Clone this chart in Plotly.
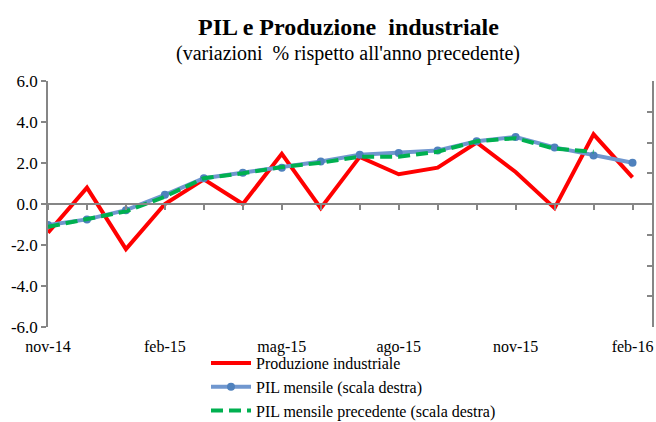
import plotly.graph_objects as go

months = ["nov-14", "dic-14", "gen-15", "feb-15", "mar-15", "apr-15", "mag-15", "giu-15",
          "lug-15", "ago-15", "set-15", "ott-15", "nov-15", "dic-15", "gen-16", "feb-16"]
label_months = ["nov-14", "feb-15", "mag-15", "ago-15", "nov-15", "feb-16"]

prod_ind = [-1.4, 0.8, -2.2, 0.0, 1.2, 0.0, 2.45, -0.2, 2.3, 1.45, 1.77, 3.0, 1.56, -0.2, 3.4, 1.3]
pil_mensile = [-0.34, -0.25, -0.10, 0.15, 0.42, 0.51, 0.59, 0.69, 0.80, 0.83, 0.87, 1.02, 1.09, 0.92, 0.79, 0.67]
pil_precedente = [-0.37, -0.25, -0.12, 0.12, 0.42, 0.50, 0.60, 0.67, 0.77, 0.77, 0.85, 1.02, 1.07, 0.90, 0.85, None]

left_ticks = [-6, -4, -2, 0, 2, 4, 6]
right_ticks = [-2, -1.5, -1, -0.5, 0, 0.5, 1, 1.5, 2]

FONT = "Liberation Serif"
AX = "#868686"
W, H = 656, 422
ML, MR, MT, MB = 48, 4, 81, 95
plot_h = H - MT - MB
plot_w = W - ML - MR

fig = go.Figure()
fig.add_trace(go.Scatter(x=months, y=prod_ind, name="Produzione industriale", mode="lines",
                         line=dict(color="#ff0000", width=4), xaxis="x", yaxis="y"))
fig.add_trace(go.Scatter(x=months, y=pil_mensile, name="PIL mensile (scala destra)", mode="lines+markers",
                         line=dict(color="#7097cf", width=4),
                         marker=dict(color="#4f81bd", size=8), xaxis="x", yaxis="y2"))
fig.add_trace(go.Scatter(x=months, y=pil_precedente, name="PIL mensile precedente (scala destra)", mode="lines",
                         line=dict(color="#00b050", width=4, dash="12px,6px"), xaxis="x", yaxis="y2"))
# invisible helper trace for the label axis
fig.add_trace(go.Scatter(x=months, y=[None] * len(months), showlegend=False, hoverinfo="skip",
                         xaxis="x2", yaxis="y"))


def py(win_y):
    """window pixel y -> paper fraction"""
    return 1 + (MT - win_y) / plot_h


def px(win_x):
    """window pixel x -> paper fraction"""
    return (win_x - ML) / plot_w


fig.update_layout(
    width=W, height=H,
    margin=dict(l=ML, r=MR, t=MT, b=MB, autoexpand=False),
    paper_bgcolor="white", plot_bgcolor="white",
    font=dict(family=FONT, size=16, color="#000000"),
    showlegend=True,
    legend=dict(x=px(206), y=py(346), xanchor="left", yanchor="top", orientation="v",
                font=dict(family=FONT, size=16), tracegroupgap=0, itemwidth=40,
                bgcolor="rgba(0,0,0,0)", borderwidth=0),
    xaxis=dict(type="category", categoryorder="array", categoryarray=months,
               range=[0, 15.5], anchor="free", position=0.5, automargin=False,
               showline=True, linecolor=AX, linewidth=1.5,
               ticks="outside", ticklen=5, tickcolor=AX, tickwidth=1.5,
               showticklabels=False, showgrid=False, zeroline=False),
    xaxis2=dict(type="category", categoryorder="array", categoryarray=months,
                range=[0, 15.5], overlaying="x", anchor="y", side="bottom", automargin=False,
                tickmode="array", tickvals=label_months, ticktext=label_months,
                showline=False, ticks="outside", ticklen=5, tickcolor="rgba(0,0,0,0)",
                showgrid=False, zeroline=False,
                tickfont=dict(family=FONT, size=16)),
    yaxis=dict(range=[-6, 6], tickmode="array", tickvals=left_ticks, automargin=False,
               ticktext=[f"{v:.1f}" for v in left_ticks],
               showline=True, linecolor=AX, linewidth=1.5,
               ticks="outside", ticklen=5, tickcolor=AX, tickwidth=1.5,
               showgrid=False, zeroline=False, tickfont=dict(family=FONT, size=17)),
    yaxis2=dict(range=[-2, 2], overlaying="y", side="right", anchor="x", automargin=False,
                tickmode="array", tickvals=right_ticks, showticklabels=False,
                showline=True, linecolor=AX, linewidth=1.5,
                ticks="inside", ticklen=5, tickcolor=AX, tickwidth=1.5,
                showgrid=False, zeroline=False),
    annotations=[
        dict(text="<b>PIL e Produzione  industriale</b>", x=px(348), y=py(27), xref="paper",
             yref="paper", xanchor="center", yanchor="middle", showarrow=False,
             font=dict(family=FONT, size=24)),
        dict(text="(variazioni  % rispetto all'anno precedente)", x=px(348), y=py(54), xref="paper",
             yref="paper", xanchor="center", yanchor="middle", showarrow=False,
             font=dict(family=FONT, size=20)),
    ],
)

fig.write_html(
    "out.html",
    config={"displayModeBar": False},
    post_script="document.body.style.margin='0px';document.body.style.overflow='hidden';",
)
